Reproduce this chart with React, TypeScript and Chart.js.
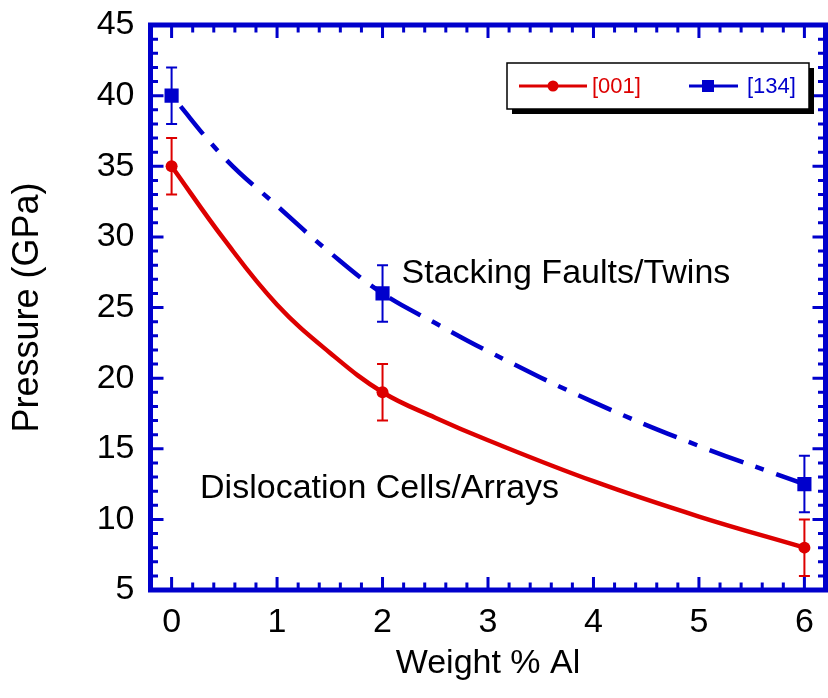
import React, { useEffect, useRef } from 'react';
import { Chart, registerables } from 'chart.js';

Chart.register(...registerables);

// ---- data ----
const weightAl = [0, 2, 6];
const p001 = [35, 19, 8];
const p001Err = [2, 2, 2];
const p134 = [40, 26, 12.5];
const p134Err = [2, 2, 2];

// smooth trend curves
const fitX = [0, 0.5, 1, 1.5, 2, 2.5, 3, 4, 5, 6];
const fit001 = [35, 29.8, 25.2, 21.8, 19, 17.2, 15.6, 12.7, 10.2, 8];
const fit134 = [40, 35.6, 32.2, 28.9, 26, 23.9, 21.9, 18.3, 15.2, 12.5];

const xTicks = [0, 1, 2, 3, 4, 5, 6];
const yTicks = [5, 10, 15, 20, 25, 30, 35, 40, 45];
const seriesLabels = ['[001]', '[134]'];
const xTitle = 'Weight % Al';
const yTitle = 'Pressure (GPa)';
const noteTexts = ['Stacking Faults/Twins', 'Dislocation Cells/Arrays'];
const noteX = [2.18, 0.27];
const noteY = [26.7, 11.5];

const RED = '#DD0000';
const BLUE = '#0000CC';
const FONT = '"Liberation Sans", Arial, Helvetica, sans-serif';

const framePlugin = {
  id: 'framePlugin',
  beforeDatasetDraw(chart: any, args: any) {
    const ds = chart.data.datasets[args.index];
    if (!ds.errors) return;
    const ctx = chart.ctx;
    const xs = chart.scales.x;
    const ys = chart.scales.y;
    ctx.save();
    ctx.strokeStyle = ds.borderColor;
    ctx.lineWidth = 2;
    ds.data.forEach((pt: any, i: number) => {
      const e = ds.errors[i];
      const px = xs.getPixelForValue(pt.x);
      const y1 = ys.getPixelForValue(pt.y + e);
      const y2 = ys.getPixelForValue(pt.y - e);
      ctx.beginPath();
      ctx.moveTo(px, y1);
      ctx.lineTo(px, y2);
      ctx.moveTo(px - 5.5, y1);
      ctx.lineTo(px + 5.5, y1);
      ctx.moveTo(px - 5.5, y2);
      ctx.lineTo(px + 5.5, y2);
      ctx.stroke();
    });
    ctx.restore();
  },
  afterDatasetsDraw(chart: any) {
    const ctx = chart.ctx;
    const { left, right, top, bottom } = chart.chartArea;
    const xs = chart.scales.x;
    const ys = chart.scales.y;
    ctx.save();
    // annotations
    ctx.fillStyle = '#000';
    ctx.font = `34px ${FONT}`;
    ctx.textAlign = 'left';
    ctx.textBaseline = 'alphabetic';
    noteTexts.forEach((t, i) => {
      ctx.fillText(t, xs.getPixelForValue(noteX[i]), ys.getPixelForValue(noteY[i]));
    });

    // ticks
    ctx.strokeStyle = BLUE;
    ctx.lineWidth = 3;
    const major = 13;
    const minor = 7.5;
    ctx.beginPath();
    const xmin = xs.min, xmax = xs.max;
    for (let k = 0; k <= Math.round((xmax - xmin) / 0.2); k++) {
      const v = xmin + k * 0.2;
      const isMajor = xTicks.some((t) => Math.abs(t - v) < 1e-6);
      const len = isMajor ? major : minor;
      const px = xs.getPixelForValue(v);
      ctx.moveTo(px, bottom);
      ctx.lineTo(px, bottom - len);
      ctx.moveTo(px, top);
      ctx.lineTo(px, top + len);
    }
    for (let v = ys.min; v <= ys.max; v++) {
      const isMajor = yTicks.includes(v);
      const len = isMajor ? major : minor;
      const py = ys.getPixelForValue(v);
      ctx.moveTo(left, py);
      ctx.lineTo(left + len, py);
      ctx.moveTo(right, py);
      ctx.lineTo(right - len, py);
    }
    ctx.stroke();

    // frame
    ctx.lineWidth = 5;
    ctx.strokeRect(left, top, right - left, bottom - top);

    // legend box
    const bx = 507, by = 63, bw = 302, bh = 46;
    ctx.fillStyle = '#000';
    ctx.fillRect(bx + 5, by + 5, bw, bh);
    ctx.fillStyle = '#fff';
    ctx.fillRect(bx, by, bw, bh);
    ctx.strokeStyle = '#000';
    ctx.lineWidth = 1.5;
    ctx.strokeRect(bx, by, bw, bh);

    const ly = by + 23;
    ctx.font = `22px ${FONT}`;
    ctx.textBaseline = 'middle';
    // [001]
    ctx.strokeStyle = RED;
    ctx.lineWidth = 3;
    ctx.beginPath();
    ctx.moveTo(519, ly);
    ctx.lineTo(587, ly);
    ctx.stroke();
    ctx.fillStyle = RED;
    ctx.beginPath();
    ctx.arc(553, ly, 5.5, 0, Math.PI * 2);
    ctx.fill();
    ctx.fillText(chart.data.datasets[0].label, 592, ly + 1);
    // [134]
    ctx.strokeStyle = BLUE;
    ctx.beginPath();
    ctx.moveTo(689, ly);
    ctx.lineTo(738, ly);
    ctx.stroke();
    ctx.fillStyle = BLUE;
    ctx.fillRect(702, ly - 6, 12, 12);
    ctx.fillText(chart.data.datasets[1].label, 747, ly + 1);
    ctx.restore();
  },
};

export default function App() {
  const ref = useRef<HTMLCanvasElement>(null);
  useEffect(() => {
    if (!ref.current) return;
    const chart = new Chart(ref.current, {
      type: 'scatter',
      data: {
        datasets: [
          {
            label: seriesLabels[0],
            data: weightAl.map((x, i) => ({ x, y: p001[i] })),
            errors: p001Err,
            borderColor: RED,
            backgroundColor: RED,
            pointStyle: 'circle',
            pointRadius: 6,
            pointBorderWidth: 0,
            showLine: false,
          } as any,
          {
            label: seriesLabels[1],
            data: weightAl.map((x, i) => ({ x, y: p134[i] })),
            errors: p134Err,
            borderColor: BLUE,
            backgroundColor: BLUE,
            pointStyle: 'rect',
            pointRadius: 10,
            pointBorderWidth: 0,
            showLine: false,
          } as any,
          {
            label: 'fit001',
            data: fitX.map((x, i) => ({ x, y: fit001[i] })),
            borderColor: RED,
            borderWidth: 4.5,
            pointRadius: 0,
            showLine: true,
            tension: 0.4,
          } as any,
          {
            label: 'fit134',
            data: fitX.map((x, i) => ({ x, y: fit134[i] })),
            borderColor: BLUE,
            borderWidth: 4.5,
            borderDash: [36, 13, 9, 13],
            borderDashOffset: -14,
            pointRadius: 0,
            showLine: true,
            tension: 0.4,
          } as any,
        ],
      },
      options: {
        responsive: false,
        animation: false,
        devicePixelRatio: 1,
        layout: { autoPadding: false, padding: { left: 0, right: 2.5, top: 25, bottom: 0 } },
        plugins: { legend: { display: false }, tooltip: { enabled: false } },
        scales: {
          x: {
            type: 'linear',
            min: -0.2,
            max: 6.2,
            grid: { display: false, drawTicks: false },
            border: { display: false },
            afterBuildTicks: (s: any) => {
              s.ticks = xTicks.map((v) => ({ value: v }));
            },
            afterFit: (s: any) => {
              s.height = 108;
              s.paddingLeft = 0;
              s.paddingRight = 0;
            },
            ticks: {
              color: '#000',
              font: { family: FONT, size: 34 },
              padding: 12,
              maxRotation: 0,
              callback: (v: any) => String(v),
            },
            title: {
              display: true,
              text: xTitle,
              color: '#000',
              font: { family: FONT, size: 34 },
              padding: { top: 0, bottom: 14 },
            },
          },
          y: {
            type: 'linear',
            min: 5,
            max: 45,
            grid: { display: false, drawTicks: false },
            border: { display: false },
            afterBuildTicks: (s: any) => {
              s.ticks = yTicks.map((v) => ({ value: v }));
            },
            afterFit: (s: any) => {
              s.width = 150.5;
              s.paddingTop = 0;
              s.paddingBottom = 0;
            },
            ticks: {
              color: '#000',
              font: { family: FONT, size: 34 },
              padding: 16,
              callback: (v: any) => String(v),
            },
            title: {
              display: true,
              text: yTitle,
              color: '#000',
              font: { family: FONT, size: 36 },
              padding: { top: 6, bottom: 0 },
            },
          },
        },
      },
      plugins: [framePlugin],
    } as any);
    return () => chart.destroy();
  }, []);
  return (
    <div style={{ position: 'absolute', left: 0, top: 0, width: 828, height: 698, background: '#fff' }}>
      <canvas ref={ref} width={828} height={698} />
    </div>
  );
}
